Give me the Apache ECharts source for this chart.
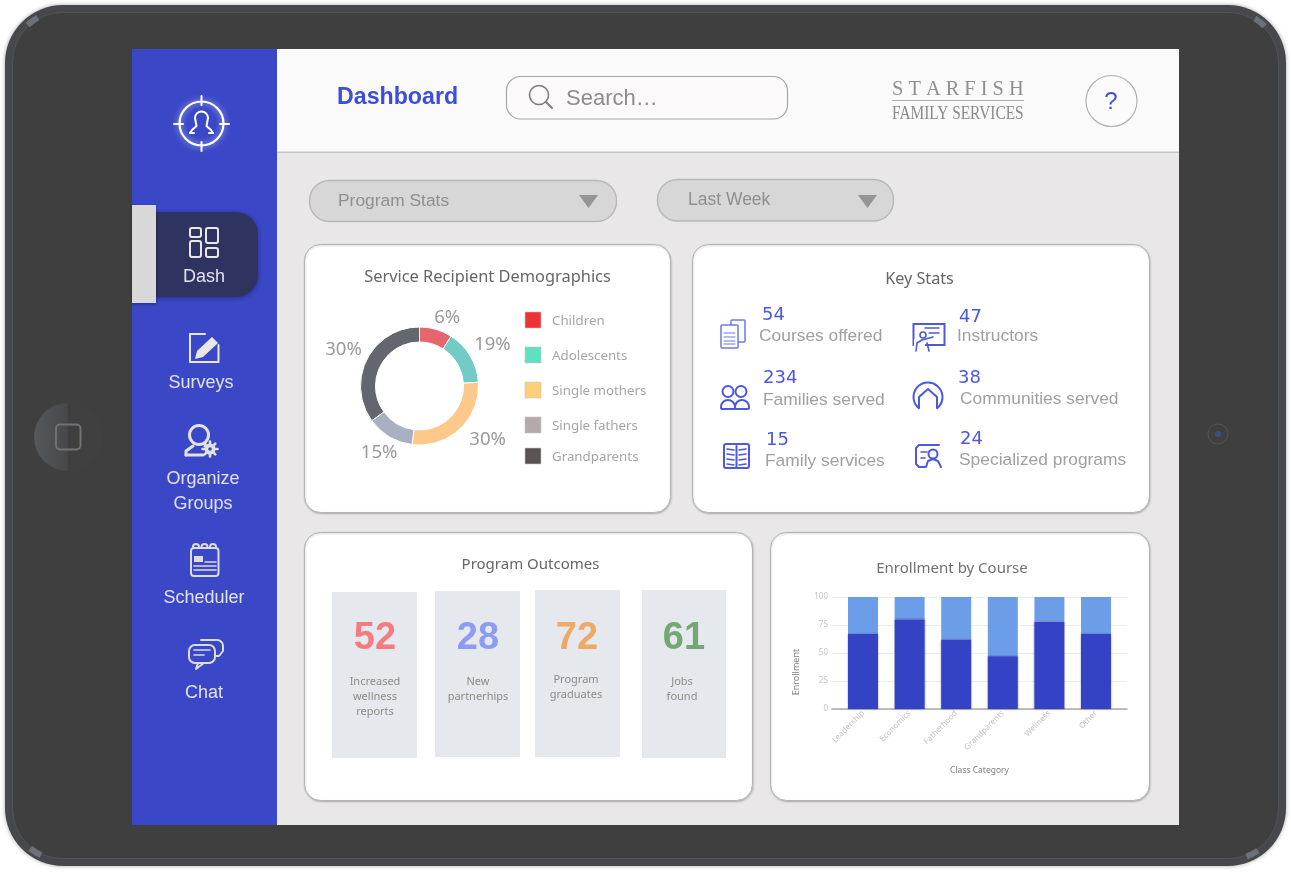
<!DOCTYPE html>
<html>
<head>
<meta charset="utf-8">
<title>Dashboard</title>
<script src="https://cdn.jsdelivr.net/npm/echarts@6/dist/echarts.min.js"></script>
<style>
  html, body { margin: 0; padding: 0; background: #fff; }
  #main { width: 1291px; height: 872px; }
</style>
</head>
<body>
<div id="main"></div>
<script>
// donut: arc sizes as drawn in the picture, the printed labels do not quite agree with them
var donutNames = ['Children', 'Adolescents', 'Single mothers', 'Single fathers', 'Grandparents'];
var donutArcs = [9, 15, 28, 13, 35];
var donutLabels = ['6%', '19%', '30%', '15%', '30%'];
var donutColors = ['#e5666c', '#73cbc8', '#fdc98a', '#a8b0c2', '#62676f'];
var legendColors = ['#ee3333', '#5fe0c0', '#fdcf78', '#b3abab', '#5a5353'];
var legendRows = [320, 355, 390, 425, 456];

// key stats
var statValues = ['54', '47', '234', '38', '15', '24'];
var statNames = ['Courses offered', 'Instructors', 'Families served', 'Communities served', 'Family services', 'Specialized programs'];

// program outcomes
var outcomeValues = ['52', '28', '72', '61'];
var outcomeColors = ['#f27c80', '#8d9bf2', '#eea966', '#72a874'];
var outcomeText = [['Increased', 'wellness', 'reports'], ['New', 'partnerhips'], ['Program', 'graduates'], ['Jobs', 'found']];

// enrollment
var courseNames = ['Leadership', 'Economics', 'Fatherhood', 'Grandparents', 'Wellness', 'Other'];
var enrolledA = [67, 80, 62, 47, 78, 67];
var enrolledB = [33, 20, 38, 53, 22, 33];
var enrollTicks = 25;

var navLabels = [['Dash', 204, 276], ['Surveys', 201, 382], ['Organize', 203, 478], ['Groups', 203, 503], ['Scheduler', 204, 597], ['Chat', 204, 692]];

var BLUE = '#4b58df';
var NAV = '#e2e2ec';
var els = [];

function rect(x, y, w, h, r, fill, stroke, lw, extra) {
  els.push(Object.assign({
    type: 'rect', shape: { x: x, y: y, width: w, height: h, r: r },
    style: { fill: fill || 'none', stroke: stroke || 'none', lineWidth: lw || 1 }
  }, extra || {}));
}
function circ(cx, cy, r, fill, stroke, lw) {
  els.push({ type: 'circle', shape: { cx: cx, cy: cy, r: r }, style: { fill: fill || 'none', stroke: stroke || 'none', lineWidth: lw || 1 } });
}
function arc(cx, cy, r, a0, a1, stroke, lw, cap) {
  els.push({
    type: 'arc', shape: { cx: cx, cy: cy, r: r, startAngle: a0 * Math.PI / 180, endAngle: a1 * Math.PI / 180, clockwise: true },
    style: { fill: 'none', stroke: stroke, lineWidth: lw || 1, lineCap: cap || 'round' }
  });
}
function line(pts, stroke, lw) {
  els.push({ type: 'polyline', shape: { points: pts }, style: { fill: 'none', stroke: stroke, lineWidth: lw || 1, lineJoin: 'round', lineCap: 'round' } });
}
function poly(pts, fill) {
  els.push({ type: 'polygon', shape: { points: pts }, style: { fill: fill } });
}
function txt(x, y, s, size, color, align, font, weight, sx) {
  els.push({
    type: 'text', x: x, y: y + 1, scaleX: sx || 1,
    style: {
      text: s, fontSize: size, fill: color, align: align || 'left', verticalAlign: 'middle',
      fontFamily: font || 'Liberation Sans', fontWeight: weight || 'normal'
    }
  });
}

// tablet body
els.push({
  type: 'rect', shape: { x: 5, y: 5, width: 1281, height: 861, r: 58 },
  style: { fill: '#46484b', shadowBlur: 4, shadowColor: 'rgba(0,0,0,0.35)' }
});
rect(12.5, 12.5, 1266, 846, 50, '#3f3f3f', '#50555a', 1);
[[63, 63, 234], [1228, 63, 308], [63, 808, 122], [1228, 808, 62]].forEach(function (c) {
  arc(c[0], c[1], 52, c[2] - 7, c[2] + 7, '#6b7176', 6, 'butt');
});
// home button and camera
els.push({
  type: 'circle', shape: { cx: 68, cy: 437, r: 34 },
  style: { fill: new echarts.graphic.LinearGradient(0, 0, 1, 0, [
    { offset: 0, color: '#55595c' }, { offset: 0.49, color: '#46484a' }, { offset: 0.5, color: '#3f3f3f' }, { offset: 1, color: '#414141' }
  ]) }
});
rect(56, 424.5, 24.5, 25, 4, 'none', '#707274', 2);
circ(1218, 434, 10, '#404040', '#555555', 1);
circ(1218, 434, 3, '#3f4a8a');

// screen
rect(132, 49, 1047, 776, 0, '#e9e7e8');
rect(277, 49, 902, 103, 0, '#fafafa');
rect(277, 151.5, 902, 1.5, 0, '#c4c4c4');
rect(132, 49, 145, 776, 0, '#3a47c7');

// selected nav item
rect(150, 212, 108, 85, [0, 22, 22, 0], '#2e3360', null, 0, { style: { fill: '#2e3360', shadowBlur: 5, shadowColor: 'rgba(20,20,70,0.5)', shadowOffsetY: 1 } });
rect(132, 205, 24, 98, 0, '#d8d8d8', null, 0, { style: { fill: '#d8d8d8', shadowBlur: 3, shadowColor: 'rgba(0,0,0,0.35)', shadowOffsetY: 1 } });

// nav text
navLabels.forEach(function (n) { txt(n[1], n[2], n[0], 18, NAV, 'center'); });

// logo
els.push({ type: 'circle', shape: { cx: 201.5, cy: 123.5, r: 22 }, style: { fill: 'none', stroke: '#fff', lineWidth: 2.2, shadowBlur: 6, shadowColor: 'rgba(255,255,255,0.7)' } });
line([[201.5, 96], [201.5, 105]], '#fff', 2);
line([[201.5, 142], [201.5, 151]], '#fff', 2);
line([[174, 124], [183, 124]], '#fff', 2);
line([[220, 124], [229, 124]], '#fff', 2);
arc(201.5, 118, 6.5, 180, 360, '#fff', 2);
line([[195, 118], [196.5, 126], [192, 130], [190, 133]], '#fff', 2);
line([[208, 118], [206.5, 126], [211, 130], [213, 133]], '#fff', 2);
line([[190, 133], [194, 133]], '#fff', 2);
line([[213, 133], [209, 133]], '#fff', 2);

// dash icon
rect(190, 228, 11, 9, 2, 'none', '#e8e8e8', 2);
rect(190, 241, 11, 16, 2, 'none', '#e8e8e8', 2);
rect(206, 228, 12, 15, 2, 'none', '#e8e8e8', 2);
rect(206, 248, 12, 9, 2, 'none', '#e8e8e8', 2);

// surveys icon
line([[205, 334], [190, 334], [190, 362], [218.5, 362], [218.5, 345]], '#e8e8e8', 2);
poly([[197, 351], [212, 337], [218, 343], [203, 357], [195, 359]], '#e8e8e8');

// groups icon
circ(199, 435, 9.5, 'none', '#e2e2e2', 3);
line([[186, 455], [186, 451], [193, 446]], '#e2e2e2', 3);
line([[186, 455], [203, 455]], '#e2e2e2', 3);
line([[205, 446], [208, 447]], '#e2e2e2', 3);
circ(210, 449, 5.5, '#e2e2e2');
circ(210, 449, 1.8, '#3a47c7');
[0, 45, 90, 135].forEach(function (a) {
  var dx = 7.5 * Math.cos(a * Math.PI / 180), dy = 7.5 * Math.sin(a * Math.PI / 180);
  line([[210 - dx, 449 - dy], [210 - dx * 0.7, 449 - dy * 0.7]], '#e2e2e2', 2.6);
  line([[210 + dx, 449 + dy], [210 + dx * 0.7, 449 + dy * 0.7]], '#e2e2e2', 2.6);
});

// scheduler icon
rect(191, 548, 27.5, 28, 3, 'none', '#dcdcdc', 2);
[196, 204.5, 213].forEach(function (x) { arc(x, 547, 3, 180, 360, '#dcdcdc', 2); });
rect(194, 556, 9, 6, 0, '#dcdcdc');
line([[205, 562], [216, 562]], '#dcdcdc', 1.5);
line([[194, 566], [216, 566]], '#dcdcdc', 1.5);
line([[194, 570], [216, 570]], '#dcdcdc', 1.5);

// chat icon
rect(189, 645, 26, 18, 6, '#3a47c7', '#dcdcdc', 2);
line([[198, 663], [196, 669], [204, 663]], '#dcdcdc', 2);
line([[201, 640], [216, 640]], '#dcdcdc', 2);
arc(217, 646, 6, 270, 360, '#dcdcdc', 2);
line([[223, 646], [223, 651], [219, 656], [215, 656]], '#dcdcdc', 2);
line([[194, 650], [210, 650]], '#dcdcdc', 1.6);
line([[194, 655], [204, 655]], '#dcdcdc', 1.6);

// header
txt(337, 97, 'Dashboard', 23.2, '#3d4cd9', 'left', 'Liberation Sans', 'bold');
rect(506.5, 76.5, 281, 42.5, 14, '#fbf9fa', '#a6a6a6', 1.2);
circ(539, 95, 9.5, 'none', '#7d7d7d', 1.6);
line([[546, 102], [552, 108]], '#7d7d7d', 2);
txt(566, 98, 'Search…', 22, '#8c8c8c');
txt(892, 88, 'S T A R F I S H', 21, '#8f8f8f', 'left', 'Liberation Serif', 'normal', 0.968);
rect(892, 100, 132, 1, 0, '#b0b0b0');
txt(892, 113, 'FAMILY SERVICES', 19, '#8a8a8a', 'left', 'Liberation Serif', 'normal', 0.81);
circ(1111.5, 101, 25.5, '#fbfbfb', '#b0b0b0', 1.2);
txt(1111, 101, '?', 24, '#4650dc', 'center');

// filters
rect(309.5, 180.5, 307, 41, 20, '#d7d7d7', '#b8b8b8', 1.4);
txt(338, 200, 'Program Stats', 17.4, '#8f8f8f');
poly([[579, 195], [598, 195], [588.5, 208]], '#959595');
rect(657.5, 179.5, 236, 41.5, 20, '#d7d7d7', '#b8b8b8', 1.4);
txt(688, 199, 'Last Week', 17.5, '#8f8f8f');
poly([[858, 195], [877, 195], [867.5, 208]], '#959595');

// cards
[[305, 245, 366, 268], [693, 245, 457, 268], [305, 533, 448, 268], [771, 533, 379, 268]].forEach(function (c) {
  els.push({
    type: 'rect', shape: { x: c[0] - 0.5, y: c[1] - 0.5, width: c[2], height: c[3], r: 16 },
    style: { fill: '#fff', stroke: '#b4b4b4', lineWidth: 1, shadowBlur: 2, shadowColor: 'rgba(0,0,0,0.2)', shadowOffsetY: 1, shadowOffsetX: 0.5 }
  });
});
txt(487.5, 276, 'Service Recipient Demographics', 16.4, '#666666', 'center', 'Noto Sans');
txt(919.5, 278, 'Key Stats', 16.2, '#666666', 'center', 'Noto Sans');
txt(530.5, 564, 'Program Outcomes', 15, '#666666', 'center', 'Noto Sans');
txt(952, 568, 'Enrollment by Course', 15, '#707070', 'center', 'Noto Sans');

// donut legend
donutNames.forEach(function (n, i) {
  rect(525, legendRows[i] - 8, 16, 16, 0, legendColors[i], '#c8c8c8', 0.6);
  txt(552, legendRows[i], n, 13.3, '#a6a6a6', 'left', 'Noto Sans');
});

// key stats
var statNumPos = [[762, 314], [959, 316], [763, 377], [958, 377], [766, 439], [960, 438]];
var statTextPos = [[759, 335], [957, 335], [763, 399], [960, 398], [765, 460], [959, 459]];
statValues.forEach(function (v, i) {
  txt(statNumPos[i][0], statNumPos[i][1], v, 18, BLUE, 'left', 'DejaVu Sans');
  txt(statTextPos[i][0], statTextPos[i][1], statNames[i], 17.4, '#a0a0a0');
});
// courses icon
rect(731, 320, 14, 22, 1, 'none', '#6a78ea', 1.5);
rect(721, 325, 17, 23, 1, '#fff', '#6a78ea', 1.5);
[333, 337, 341, 344].forEach(function (y) { line([[724, y], [735, y]], '#6a78ea', 1); });
// instructors icon
rect(913.5, 324, 31, 21, 0, 'none', BLUE, 2);
line([[925, 328], [939, 328]], BLUE, 1.4);
line([[929, 333], [939, 333]], BLUE, 1.4);
rect(914, 339, 11, 12, 0, '#fff');
circ(923, 335, 3, 'none', BLUE, 1.6);
line([[916, 351], [917, 343], [922, 340], [933, 337]], BLUE, 1.6);
line([[929, 351], [927, 343]], BLUE, 1.6);
// families icon
circ(728, 391.5, 5.5, 'none', BLUE, 2);
circ(741, 391.5, 5.5, 'none', BLUE, 2);
rect(721, 400, 14, 9, [7, 7, 1, 1], 'none', BLUE, 2);
rect(735, 400, 14, 9, [7, 7, 1, 1], 'none', BLUE, 2);
// communities icon
arc(928, 397, 14.5, 130, 50, BLUE, 2);
line([[919, 408], [919, 397], [928, 389], [937, 397], [937, 408]], BLUE, 2);
// book icon
rect(724, 444, 25, 24, 2, 'none', BLUE, 2);
line([[736.5, 446], [736.5, 468]], BLUE, 2);
[450, 455, 460, 465].forEach(function (y) {
  line([[727, y - 1], [734, y]], BLUE, 1.6);
  line([[739, y], [746, y - 1]], BLUE, 1.6);
});
// specialized icon
line([[939, 445], [919, 445], [916, 448], [916, 464], [919, 467], [925, 467]], BLUE, 2);
line([[921, 452], [927, 452]], BLUE, 1.6);
line([[921, 458], [925, 458]], BLUE, 1.6);
circ(933, 454, 4.5, 'none', BLUE, 2);
line([[926, 467], [928, 461], [933, 459], [938, 461], [941, 467]], BLUE, 2);

// outcome tiles
var tileBoxes = [[332, 592, 85, 166], [435, 591, 85, 166], [535, 590, 85, 167], [642, 590, 84, 168]];
var tileTextX = [375, 478, 576, 682];
var tileNumX = [375, 478, 577, 684];
var tileTextY = [681, 681, 679, 681];
outcomeValues.forEach(function (v, i) {
  var b = tileBoxes[i];
  rect(b[0], b[1], b[2], b[3], 0, '#e5e8ed');
  txt(tileNumX[i], 638, v, 38, outcomeColors[i], 'center', 'Liberation Sans', 'bold');
  outcomeText[i].forEach(function (t, k) {
    txt(tileTextX[i], tileTextY[i] + k * 15, t, 11, '#8c8c8c', 'center', 'Noto Sans');
  });
});

var labelNudge = [[-9, -4], [-8, -7], [-1, 5], [17, 9], [7, -6]];

var chart = echarts.init(document.getElementById('main'));
chart.setOption({
  animation: false,
  graphic: { elements: els },
  grid: [
    { left: 832, width: 295, top: 597, height: 112 },
    { left: 839.7, width: 279.6, top: 597, height: 112 }
  ],
  xAxis: [
    {
      type: 'value', gridIndex: 0, min: 0, max: 1, z: 5,
      axisLabel: { show: false }, axisTick: { show: false }, splitLine: { show: false },
      axisLine: { show: true, onZero: false, lineStyle: { color: '#a8a8a8', width: 1.5 } },
      name: 'Class Category', nameLocation: 'middle', nameGap: 57,
      nameTextStyle: { fontSize: 8.5, color: '#808080', fontFamily: 'Noto Sans' }
    },
    {
      type: 'category', gridIndex: 1, data: courseNames, z: 5,
      axisLine: { show: false }, axisTick: { show: false },
      axisLabel: { rotate: 45, fontSize: 8, color: '#c2c2c2', margin: 3, lineHeight: 26, interval: 0, fontFamily: 'Noto Sans' }
    }
  ],
  yAxis: [
    {
      type: 'value', gridIndex: 0, min: 0, max: 100, interval: enrollTicks, z: 5,
      axisLine: { show: false }, axisTick: { show: false },
      axisLabel: { fontSize: 8, color: '#c4c4c4', margin: 4, fontFamily: 'Noto Sans' },
      splitLine: { lineStyle: { color: '#ececec', width: 1 } },
      name: 'Enrollment', nameLocation: 'middle', nameGap: 31, nameRotate: 90,
      nameTextStyle: { fontSize: 9, color: '#808080', fontFamily: 'Noto Sans', padding: [0, 38, 0, 0] }
    },
    { type: 'value', gridIndex: 1, min: 0, max: 100, show: false, splitLine: { show: false } }
  ],
  series: [
    {
      type: 'pie', silent: true, z: 6,
      center: [419.5, 386], radius: [44, 59], startAngle: 90, clockwise: true,
      avoidLabelOverlap: false,
      itemStyle: { borderColor: '#fff', borderWidth: 1 },
      label: {
        position: 'outside', fontSize: 18.5, color: '#9a9a9a', fontFamily: 'Noto Sans',
        formatter: function (p) { return donutLabels[p.dataIndex]; }
      },
      labelLine: { show: false, length: 8, length2: 0 },
      labelLayout: function (p) {
        return { dx: labelNudge[p.dataIndex][0], dy: labelNudge[p.dataIndex][1] };
      },
      data: donutNames.map(function (n, i) {
        return { name: n, value: donutArcs[i], itemStyle: { color: donutColors[i] } };
      })
    },
    {
      type: 'bar', xAxisIndex: 1, yAxisIndex: 1, stack: 'enroll', barWidth: 30, silent: true, z: 6, data: enrolledA,
      itemStyle: { color: '#3443c5', shadowBlur: 2, shadowColor: 'rgba(20,20,90,0.4)' }
    },
    {
      type: 'bar', xAxisIndex: 1, yAxisIndex: 1, stack: 'enroll', barWidth: 30, silent: true, z: 5, data: enrolledB,
      itemStyle: { color: '#6c9de8' }
    }
  ]
});
</script>
</body>
</html>
